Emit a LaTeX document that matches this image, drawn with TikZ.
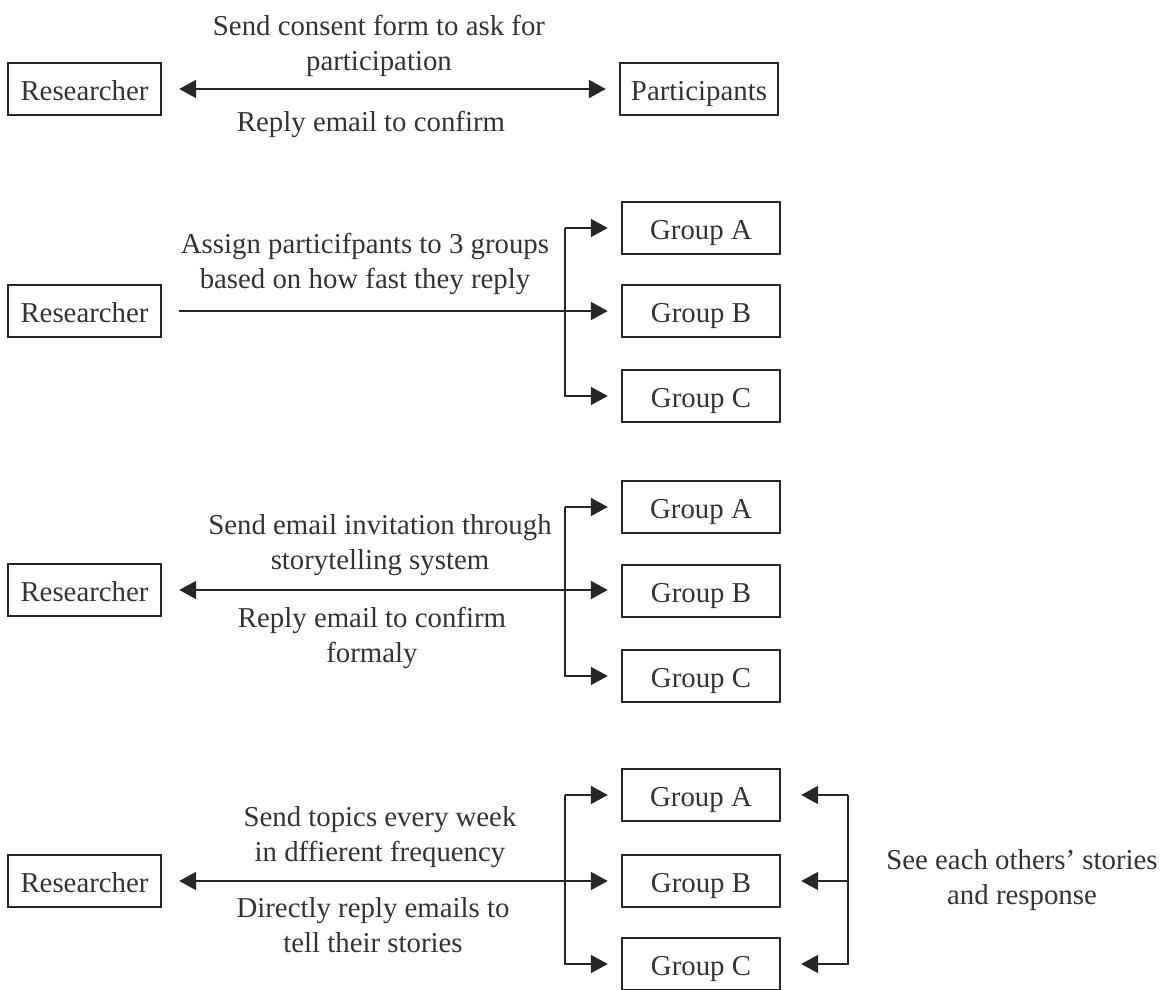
\documentclass[tikz,border=0pt]{standalone}
\usepackage{fontspec}
\setmainfont{Liberation Serif}
\usetikzlibrary{arrows.meta}
\begin{document}
\begin{tikzpicture}[x=0.02cm,y=-0.02cm,
  box/.style={draw=black!85,line width=1.4pt,minimum width=3.16cm,minimum height=1.04cm,inner sep=0pt,text height=13pt,text depth=0pt,font=\fontsize{16.4}{19.5}\selectfont,text=black!80},
  rbox/.style={box,minimum width=3.06cm},
  lbl/.style={align=center,font=\fontsize{16.4}{19.8}\selectfont,text=black!80,inner sep=0pt},
  arr/.style={-{Triangle[length=0.34cm,width=0.36cm]},line width=1.2pt,draw=black!85,line join=miter},
  darr/.style={{Triangle[length=0.34cm,width=0.36cm]}-{Triangle[length=0.34cm,width=0.36cm]},line width=1.2pt,draw=black!85},
  gl/.style={shorten <=0.34cm,shorten >=0.26cm},
  gr/.style={shorten >=0.26cm},
  gb/.style={shorten >=0.4cm}]
\useasboundingbox (0,0) rectangle (1167,990);
% ---------- section 1
\node[rbox] (r1) at (84.5,89) {Researcher};
\node[box] (p1) at (699,89) {Participants};
\draw[darr,gl] (r1) -- (p1);
\node[lbl] (t1a) at (379,46) {Send consent form to ask for\\participation};
\node[lbl] (t1b) at (371,124) {Reply email to confirm};
% ---------- section 2
\node[rbox] (r2) at (84.5,311) {Researcher};
\node[box] (a2) at (701,228) {Group A};
\node[box] (b2) at (701,311) {Group B};
\node[box] (c2) at (701,396) {Group C};
\coordinate (v2) at (565,311);
\draw[arr,gl] (r2) -- (b2);
\draw[arr,gr] (v2 |- a2) -- (a2);
\draw[arr,gr] (v2 |- a2) |- (c2);
\node[lbl] (t2a) at (365,264) {Assign particifpants to 3 groups\\based on how fast they reply};
% ---------- section 3
\node[rbox] (r3) at (84.5,590) {Researcher};
\node[box] (a3) at (701,507) {Group A};
\node[box] (b3) at (701,591) {Group B};
\node[box] (c3) at (701,676) {Group C};
\coordinate (v3) at (565,590);
\draw[darr,gl] (r3) -- (r3 -| b3.west);
\draw[arr,gr] (v3 |- a3) -- (a3);
\draw[arr,gr] (v3 |- a3) |- (c3);
\node[lbl] (t3a) at (380,545) {Send email invitation through\\storytelling system};
\node[lbl] (t3b) at (372,638) {Reply email to confirm\\formaly};
% ---------- section 4
\node[rbox] (r4) at (84.5,881) {Researcher};
\node[box] (a4) at (701,795) {Group A};
\node[box] (b4) at (701,881) {Group B};
\node[box] (c4) at (701,964) {Group C};
\coordinate (v4) at (565,881);
\coordinate (w4) at (848,881);
\draw[darr,gl] (r4) -- (b4);
\draw[arr,gr] (v4 |- a4) -- (a4);
\draw[arr,gr] (v4 |- a4) |- (c4);
\draw[arr,gb] (w4 |- a4) -- (a4);
\draw[arr,gb] (w4) -- (b4);
\draw[arr,gb] (w4 |- a4) |- (c4);
\node[lbl] (t4a) at (380,837) {Send topics every week\\in dffierent frequency};
\node[lbl] (t4b) at (373,925) {Directly reply emails to\\tell their stories};
\node[lbl] (t4c) at (1022,880) {See each others' stories\\and response};
\end{tikzpicture}
\end{document}
